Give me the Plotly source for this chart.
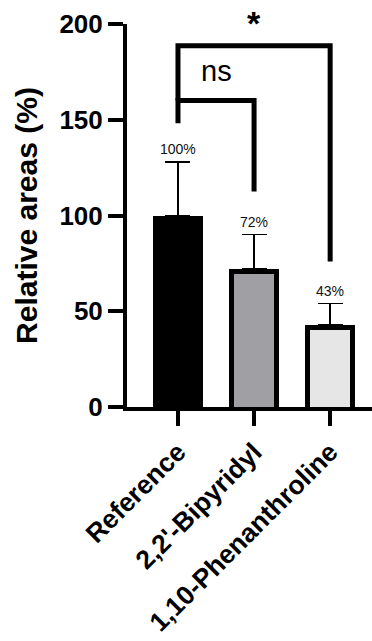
import plotly.graph_objects as go

categories = ["Reference", "2,2'-Bipyridyl", "1,10-Phenanthroline"]
means = [100, 72, 43]
errors_up = [28, 18, 11]
bar_colors = ["#000000", "#A09FA4", "#E6E6E6"]
y_ticks = [0, 50, 100, 150, 200]

# significance comparisons
bracket_labels = ["ns", "*"]
bracket_left = [0, 0]
bracket_right = [1, 2]
bracket_top = [160, 188.6]
bracket_left_end = [148.2, 160]
bracket_right_end = [112.5, 76]

FONT = "Liberation Sans, Arial, sans-serif"
W, H = 372, 641
M = dict(l=127, r=0, t=24, b=234)
Y_RANGE = [0, 200]
X_RANGE = [-0.67, 2.55]
BORDER_PX = 5
BAR_W = 0.665

xpos = list(range(len(categories)))
px_per_y = (H - M["t"] - M["b"]) / (Y_RANGE[1] - Y_RANGE[0])
px_per_x = (W - M["l"] - M["r"]) / (X_RANGE[1] - X_RANGE[0])
inset_y = BORDER_PX / px_per_y
inset_x = 2 * BORDER_PX / px_per_x

fig = go.Figure()
# outer bar = black border
fig.add_trace(go.Bar(
    x=xpos, y=means, width=BAR_W,
    marker=dict(color="black", line=dict(width=0)),
    error_y=dict(type="data", array=errors_up, arrayminus=[0] * len(means),
                 symmetric=False, color="black", thickness=1.5, width=12.5),
    showlegend=False, hoverinfo="skip",
))
# inner fill
fig.add_trace(go.Bar(
    x=xpos, y=[m - inset_y for m in means], width=BAR_W - inset_x,
    marker=dict(color=bar_colors, line=dict(width=0)),
    showlegend=False, hoverinfo="skip",
))

annotations = []
for i, (m, e) in enumerate(zip(means, errors_up)):
    annotations.append(dict(x=xpos[i], y=m + e, xref="x", yref="y", text=f"{m}%",
                            showarrow=False, yanchor="bottom", yshift=3,
                            font=dict(family=FONT, size=14, color="#111111")))

shapes = []
for lab, l, r, top, le, re in zip(bracket_labels, bracket_left, bracket_right,
                                  bracket_top, bracket_left_end, bracket_right_end):
    shapes.append(dict(type="path", xref="x", yref="y",
                       path=f"M {l},{le} L {l},{top} L {r},{top} L {r},{re}",
                       line=dict(color="black", width=5)))
    if lab == "*":
        annotations.append(dict(x=(l + r) / 2, y=top, xref="x", yref="y", text=lab,
                                showarrow=False, yanchor="bottom", yshift=2,
                                font=dict(family=FONT, size=34, color="black", weight="bold")))
    else:
        annotations.append(dict(x=(l + r) / 2, y=top, xref="x", yref="y", text=lab,
                                showarrow=False, yanchor="bottom", yshift=12,
                                font=dict(family=FONT, size=29, color="black")))

fig.update_layout(
    width=W, height=H, margin=M,
    paper_bgcolor="white", plot_bgcolor="white",
    shapes=shapes, annotations=annotations,
    barmode="overlay", bargap=0,
)
fig.update_xaxes(
    range=X_RANGE, tickvals=xpos, ticktext=categories, tickangle=-45,
    showline=True, linewidth=4, linecolor="black", ticks="outside", ticklen=15,
    tickwidth=4, tickcolor="black", showgrid=False, zeroline=False, automargin=False,
    tickfont=dict(family=FONT, size=26.5, color="black", weight="bold"),
)
fig.update_yaxes(
    range=Y_RANGE, tickvals=y_ticks, showline=True, linewidth=4, linecolor="black",
    ticks="outside", ticklen=15, tickwidth=4, tickcolor="black",
    showgrid=False, zeroline=False, automargin=False,
    tickfont=dict(family=FONT, size=26, color="black", weight="bold"),
    title=dict(text="Relative areas (%)", standoff=14,
               font=dict(family=FONT, size=30, color="black", weight="bold")),
)
fig.write_html("out.html")
